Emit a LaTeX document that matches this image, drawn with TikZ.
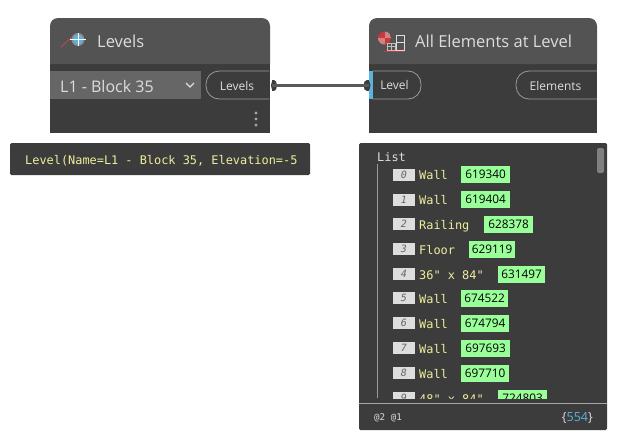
\documentclass[tikz,border=0pt]{standalone}
\usepackage{fontspec}
\setmainfont{Open Sans}
\setmonofont{DejaVu Sans Mono}
\definecolor{nodehead}{HTML}{535353}
\definecolor{nodebody}{HTML}{3C3C3C}
\definecolor{dropbox}{HTML}{666666}
\definecolor{pillline}{HTML}{9A9A9A}
\definecolor{paletext}{HTML}{DDDDDD}
\definecolor{previewtext}{HTML}{EEEE9E}
\definecolor{idgreen}{HTML}{99FF99}
\definecolor{portblue}{HTML}{5AB4E0}
\definecolor{iconred}{HTML}{C8393B}
\tikzset{
    headtext/.style={text=paletext, anchor=west, inner sep=0pt, font=\fontsize{16.5}{19}\selectfont},
    porttext/.style={text=paletext, inner sep=0pt, font=\fontsize{12}{14}\selectfont},
    pill/.style={draw=pillline, line width=0.8pt, rounded corners=13pt},
    knob/.style={fill=nodebody, draw=none},
    monotext/.style={text=previewtext, anchor=base west, inner sep=0pt, font=\ttfamily\fontsize{11.9}{14}\selectfont},
    idbox/.style={fill=idgreen, text=black, inner sep=0pt, minimum height=17pt, font=\fontsize{11.8}{14}\selectfont},
    indexbox/.style={fill=paletext, text=black!60, inner sep=0pt, minimum width=22pt, minimum height=12pt, font=\ttfamily\itshape\fontsize{10}{12}\selectfont},
}
\begin{document}
\begin{tikzpicture}[x=1pt,y=-1pt]
    \useasboundingbox (0,0) rectangle (626,442);

    % Levels
    \fill[nodebody] (50,60) rectangle (270,133);
    \fill[nodehead] (50,64) [rounded corners=8pt] -- (50,18) -- (270,18) [sharp corners] -- (270,64) -- cycle;
    \node[headtext] (levelstitle) at (97,41) {Levels};
    \fill[dropbox] (50,71) rectangle (201,99);
    \node[anchor=west, inner sep=0pt, text=paletext, font=\fontsize{16}{19}\selectfont] (levelsdrop) at (60,86) {L1 - Block 35};
    \draw[paletext, line width=1.1pt] (186,83) -- (190,87) -- (194,83);
    \draw[pill] (269,71) -- (206,71) -- (206,99) -- (269,99);
    \node[porttext] (levelslabel) at (237,85.5) {Levels};
    \foreach \dotx in {256,584} {
        \foreach \doty in {113,119,125} {
            \fill[black!35] (\dotx,\doty) circle (1.6);
        }
    }

    % All Elements at Level
    \fill[nodebody] (369,60) rectangle (597,133);
    \fill[nodehead] (369,64) [rounded corners=8pt] -- (369,18) -- (597,18) [sharp corners] -- (597,64) -- cycle;
    \node[headtext] (elementstitle) at (415,41) {All Elements at Level};
    \draw[pill] (373,71) -- (421,71) -- (421,99) -- (373,99);
    \fill[portblue] (369,71) rectangle (373,99);
    \node[porttext] (levelin) at (394.5,85) {Level};
    \draw[pill] (597,71) -- (516,71) -- (516,99) -- (597,99);
    \node[porttext] (elementsout) at (555.5,85.5) {Elements};

    % wire
    \coordinate (wirea) at (272,85.5);
    \coordinate (wireb) at (369,85.5);
    \fill[knob] (272,80) rectangle (274,91);
    \fill[knob] (274,85.5) ellipse (3 and 5.5);
    \fill[knob] (367,80) rectangle (369,91);
    \fill[knob] (367,85.5) ellipse (3.5 and 5.5);
    \draw[nodebody!85!white, line width=2.6pt] (wirea) -- (wireb);

    % icons
    \draw[iconred!80!gray, line width=1pt] (61,47) -- (72,37);
    \fill[black!45] (78,39.5) circle (6.5);
    \fill[portblue] (78,39.5) circle (5);
    \draw[white, line width=1pt] (70,39.5) -- (86,39.5) (78,33) -- (78,46);
    \begin{scope}
        \clip (384.5,38) circle (6.5);
        \fill[iconred] (378,31) rectangle (391,45);
        \fill[iconred!55!paletext] (384.5,31) rectangle (391,38);
        \fill[iconred!55!paletext] (378,38) rectangle (384.5,45);
    \end{scope}
    \draw[black!25, line width=0.7pt] (387,43) rectangle (395,50) (391,43) -- (391,50) (387,46.5) -- (395,46.5);
    \draw[paletext, line width=0.8pt] (396,35) rectangle (404,50) (396,42) -- (404,42);
    \draw[iconred, line width=0.7pt] (384,51) -- (405,51);

    % preview of Levels
    \fill[nodebody, rounded corners=1.5pt] (10,143) rectangle (310,175);
    \node[monotext] (levelvalue) at (25,164) {Level(Name=L1 - Block 35, Elevation=-5};

    % preview of All Elements at Level
    \fill[nodebody, rounded corners=1.5pt] (359,143) rectangle (607,430);
    \fill[black!50, rounded corners=2pt] (597,148) rectangle (604,173);
    \node[monotext, text=paletext] (listtitle) at (377,161) {List};
    \draw[black!40, line width=0.9pt] (377,164) -- (377,398);
    \begin{scope}
        \clip (380,160) rectangle (596,398);
        \foreach \rowy/\rowi/\rowname/\idx/\idw/\idn in {
            174.5/0/Wall/461/49/619340,
            199.5/1/Wall/461/49/619404,
            224/2/Railing/484/49/628378,
            249/3/Floor/469/46/629119,
            274/4/36" x 84"/498/47/631497,
            298/5/Wall/461/47/674522,
            323/6/Wall/461/48/674794,
            348/7/Wall/461/49/697693,
            373/8/Wall/461/48/697710,
            398/9/48" x 84"/498/49/724803} {
            \node[indexbox] (index\rowi) at (404,\rowy) {\hfill\rowi\hspace{5pt}};
            \node[monotext] (name\rowi) at (419,\rowy+5) {\rowname};
            \node[idbox, anchor=west, minimum width=\idw pt] (id\rowi) at (\idx,\rowy) {\idn};
        }
    \end{scope}
    \draw[black!35, line width=0.8pt] (359,403) -- (607,403);
    \node[monotext, text=paletext, anchor=west, font=\ttfamily\fontsize{9.2}{10}\selectfont] (listlevels) at (374,418) {@2 @1};
    \node[anchor=east, inner sep=0pt, text=paletext, font=\fontsize{12.5}{14}\selectfont] (listcount) at (593,418) {\{\textcolor{portblue}{554}\}};
\end{tikzpicture}
\end{document}
